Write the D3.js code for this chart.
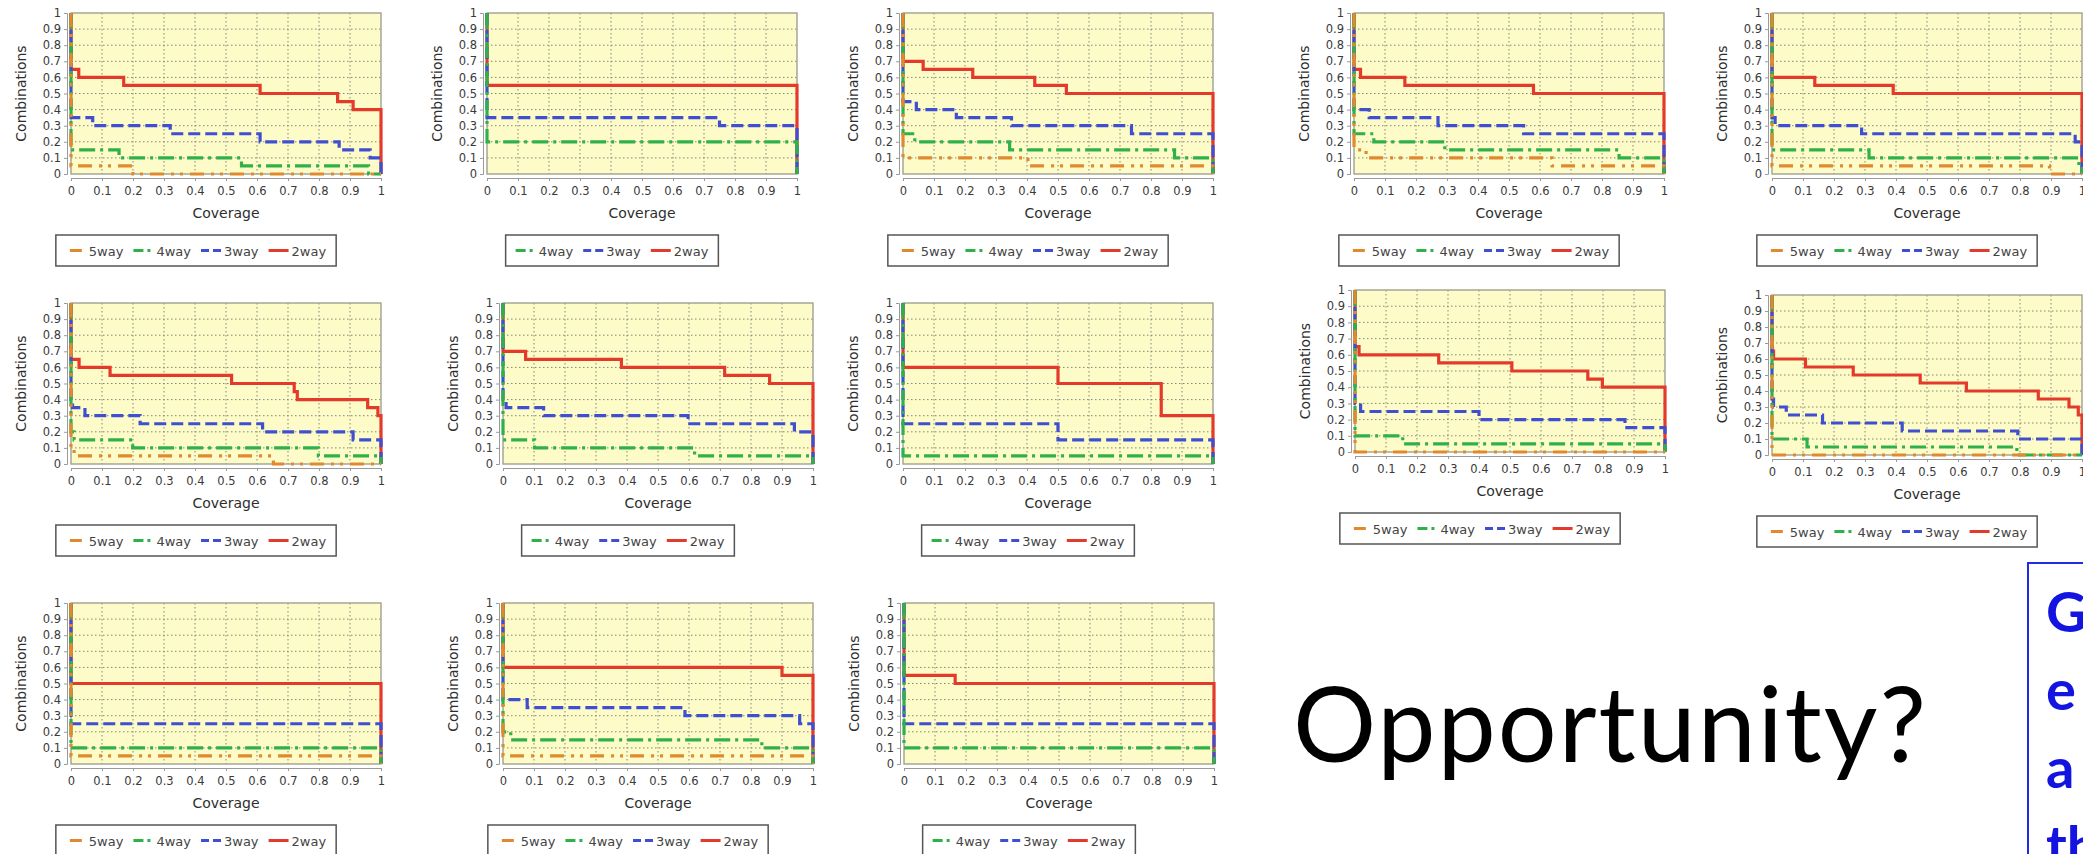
<!DOCTYPE html>
<html>
<head>
<meta charset="utf-8">
<script src="https://cdn.jsdelivr.net/npm/d3@7"></script>
<style>
  html, body { margin: 0; padding: 0; background: #fff; overflow: hidden; }
  text { font-family: "DejaVu Sans", "Liberation Sans", sans-serif; }
</style>
</head>
<body>
<svg id="page" width="2083" height="854"></svg>
<script>
// ---- shared axis values ----
const tickValues = [0, 0.1, 0.2, 0.3, 0.4, 0.5, 0.6, 0.7, 0.8, 0.9, 1];
const tickLabels = ["0", "0.1", "0.2", "0.3", "0.4", "0.5", "0.6", "0.7", "0.8", "0.9", "1"];
const xTitle = "Coverage";
const yTitle = "Combinations";
const seriesNames = ["5way", "4way", "3way", "2way"];

// ---- step curves: [coverage, combinations] — value holds from that coverage onward ----
// row 1
const a_2way = [[0,0.65],[0.025,0.6],[0.17,0.55],[0.61,0.5],[0.86,0.45],[0.91,0.4]];
const a_3way = [[0,0.35],[0.07,0.3],[0.32,0.25],[0.61,0.2],[0.865,0.15],[0.965,0.1]];
const a_4way = [[0,0.15],[0.155,0.1],[0.55,0.05],[0.96,0]];
const a_5way = [[0,0.05],[0.2,0]];

const b_2way = [[0,0.55]];
const b_3way = [[0,0.35],[0.75,0.3]];
const b_4way = [[0,0.2]];

const c_2way = [[0,0.7],[0.065,0.65],[0.225,0.6],[0.425,0.55],[0.527,0.5]];
const c_3way = [[0,0.45],[0.043,0.4],[0.172,0.35],[0.35,0.3],[0.737,0.25]];
const c_4way = [[0,0.25],[0.038,0.2],[0.344,0.15],[0.876,0.1]];
const c_5way = [[0,0.1],[0.403,0.05]];

const d_2way = [[0,0.65],[0.021,0.6],[0.164,0.55],[0.579,0.5]];
const d_3way = [[0,0.4],[0.049,0.35],[0.271,0.3],[0.547,0.25]];
const d_4way = [[0,0.25],[0.064,0.2],[0.293,0.15],[0.855,0.1]];
const d_5way = [[0,0.15],[0.039,0.1],[0.639,0.05]];

const e_2way = [[0,0.6],[0.138,0.55],[0.391,0.5]];
const e_3way = [[0,0.35],[0.01,0.3],[0.289,0.25],[0.978,0.2]];
const e_4way = [[0,0.15],[0.313,0.1],[0.99,0.05]];
const e_5way = [[0,0.05],[0.895,0]];

// row 2
const f_2way = [[0,0.65],[0.026,0.6],[0.126,0.55],[0.518,0.5],[0.72,0.45],[0.73,0.4],[0.957,0.35],[0.99,0.3]];
const f_3way = [[0,0.4],[0.005,0.35],[0.045,0.3],[0.223,0.25],[0.618,0.2],[0.91,0.15]];
const f_4way = [[0,0.2],[0.01,0.15],[0.199,0.1],[0.798,0.05]];
const f_5way = [[0,0.1],[0.01,0.05],[0.653,0]];

const g_2way = [[0,0.7],[0.073,0.65],[0.382,0.6],[0.715,0.55],[0.86,0.5]];
const g_3way = [[0,0.4],[0.01,0.35],[0.131,0.3],[0.597,0.25],[0.94,0.2]];
const g_4way = [[0,0.15],[0.102,0.1],[0.618,0.05]];

const h_2way = [[0,0.6],[0.5,0.5],[0.833,0.3]];
const h_3way = [[0,0.25],[0.5,0.15]];
const h_4way = [[0,0.05]];

const i_2way = [[0,0.65],[0.013,0.6],[0.27,0.55],[0.506,0.5],[0.751,0.45],[0.798,0.4]];
const i_3way = [[0,0.3],[0.018,0.25],[0.4,0.2],[0.871,0.15]];
const i_4way = [[0,0.1],[0.154,0.05]];
const i_5way = [[0,0]];

const j_2way = [[0,0.65],[0.005,0.6],[0.108,0.55],[0.262,0.5],[0.478,0.45],[0.627,0.4],[0.859,0.35],[0.958,0.3],[0.988,0.25]];
const j_3way = [[0,0.35],[0.005,0.3],[0.046,0.25],[0.163,0.2],[0.42,0.15],[0.793,0.1]];
const j_4way = [[0,0.1],[0.113,0.05],[0.79,0]];
const j_5way = [[0,0]];

// row 3
const k_2way = [[0,0.5]];
const k_3way = [[0,0.25]];
const k_4way = [[0,0.1]];
const k_5way = [[0,0.05]];

const l_2way = [[0,0.6],[0.9,0.55]];
const l_3way = [[0,0.4],[0.078,0.35],[0.587,0.3],[0.957,0.25]];
const l_4way = [[0,0.2],[0.025,0.15],[0.835,0.1]];
const l_5way = [[0,0.05]];

const m_2way = [[0,0.55],[0.165,0.5]];
const m_3way = [[0,0.25]];
const m_4way = [[0,0.1]];

// side text
const headline = "Opportunity?";
const boxLines = ["G", "e", "a", "th"];

// ---- styles ----
const seriesStyle = {
  "2way": { color: "#e43a2c", dash: null,            key: [0, 20, null] },
  "3way": { color: "#3f4fcf", dash: "12,5",          key: [0, 20, "8,4"] },
  "4way": { color: "#2fb04a", dash: "16,5,3,5",      key: [0, 18, "10,4,3,20"] },
  "5way": { color: "#e0892f", dash: "14,7,3,6,3,7",  key: [4, 12, null] }
};
const PLOT_BG = "#fdfcc8";

const svg = d3.select("#page");

// panel placement: plot-area origin and height
const panels = [
  { x: 71,   y: 13,  h: 161, s: { "5way": a_5way, "4way": a_4way, "3way": a_3way, "2way": a_2way } },
  { x: 487,  y: 13,  h: 161, s: { "4way": b_4way, "3way": b_3way, "2way": b_2way } },
  { x: 903,  y: 13,  h: 161, s: { "5way": c_5way, "4way": c_4way, "3way": c_3way, "2way": c_2way } },
  { x: 1354, y: 13,  h: 161, s: { "5way": d_5way, "4way": d_4way, "3way": d_3way, "2way": d_2way } },
  { x: 1772, y: 13,  h: 161, s: { "5way": e_5way, "4way": e_4way, "3way": e_3way, "2way": e_2way } },
  { x: 71,   y: 303, h: 161, s: { "5way": f_5way, "4way": f_4way, "3way": f_3way, "2way": f_2way } },
  { x: 503,  y: 303, h: 161, s: { "4way": g_4way, "3way": g_3way, "2way": g_2way } },
  { x: 903,  y: 303, h: 161, s: { "4way": h_4way, "3way": h_3way, "2way": h_2way } },
  { x: 1355, y: 290, h: 162, s: { "5way": i_5way, "4way": i_4way, "3way": i_3way, "2way": i_2way } },
  { x: 1772, y: 295, h: 160, s: { "5way": j_5way, "4way": j_4way, "3way": j_3way, "2way": j_2way } },
  { x: 71,   y: 603, h: 161, s: { "5way": k_5way, "4way": k_4way, "3way": k_3way, "2way": k_2way } },
  { x: 503,  y: 603, h: 161, s: { "5way": l_5way, "4way": l_4way, "3way": l_3way, "2way": l_2way } },
  { x: 904,  y: 603, h: 161, s: { "4way": m_4way, "3way": m_3way, "2way": m_2way } }
];

const W = 310;

function drawPanel(p) {
  const H = p.h;
  const g = svg.append("g").attr("transform", `translate(${p.x},${p.y})`);
  const x = d3.scaleLinear().domain([0, 1]).range([0, W]);
  const y = d3.scaleLinear().domain([0, 1]).range([H, 0]);

  g.append("rect").attr("width", W).attr("height", H).attr("fill", PLOT_BG);

  const inner = tickValues.slice(1, -1);
  g.selectAll(".vg").data(inner).join("line")
    .attr("x1", d => x(d)).attr("x2", d => x(d)).attr("y1", 0).attr("y2", H)
    .attr("stroke", "#85857a").attr("stroke-width", 1).attr("stroke-dasharray", "1.5,2.5");
  g.selectAll(".hg").data(inner).join("line")
    .attr("y1", d => y(d)).attr("y2", d => y(d)).attr("x1", 0).attr("x2", W)
    .attr("stroke", "#85857a").attr("stroke-width", 1).attr("stroke-dasharray", "1.5,2.5");

  g.append("rect").attr("width", W).attr("height", H)
    .attr("fill", "none").attr("stroke", "#a0a090").attr("stroke-width", 1.4);

  // axes sit slightly away from the plot frame
  const xAxis = d3.axisBottom(x).tickValues(tickValues)
    .tickFormat((d, i) => tickLabels[i]).tickSize(3).tickPadding(6);
  const xa = g.append("g").attr("transform", `translate(0,${H + 4})`).call(xAxis);
  const yAxis = d3.axisLeft(y).tickValues(tickValues)
    .tickFormat((d, i) => tickLabels[i]).tickSize(3).tickPadding(3);
  const ya = g.append("g").attr("transform", "translate(-4,0)").call(yAxis);
  [xa, ya].forEach(a => {
    a.select(".domain").attr("stroke", "#9a9a9a");
    a.selectAll(".tick line").attr("stroke", "#9a9a9a");
    a.selectAll(".tick text").attr("fill", "#3a3a3a").style("font-size", "11.5px")
      .style("font-family", "'DejaVu Sans', sans-serif");
  });

  g.append("text").attr("x", W / 2).attr("y", H + 44)
    .attr("text-anchor", "middle").attr("fill", "#2e2e2e").style("font-size", "14px").text(xTitle);
  g.append("text").attr("transform", `translate(-45,${H / 2}) rotate(-90)`)
    .attr("text-anchor", "middle").attr("fill", "#2e2e2e").style("font-size", "14px").text(yTitle);

  // curves: 2way first, 5way drawn on top
  const line = d3.line().x(d => x(d[0])).y(d => y(d[1])).curve(d3.curveStepAfter);
  const order = ["2way", "3way", "4way", "5way"].filter(k => p.s[k]);
  order.forEach(k => {
    const pts = [[0, 1]].concat(p.s[k]).concat([[1, 0]]);
    const st = seriesStyle[k];
    g.append("path").datum(pts).attr("d", line)
      .attr("fill", "none").attr("stroke", st.color).attr("stroke-width", 3.2)
      .attr("stroke-dasharray", st.dash);
  });

  // legend
  const names = seriesNames.filter(k => p.s[k]);
  const lg = g.append("g");
  const box = lg.append("rect").attr("fill", "#fff").attr("stroke", "#555").attr("stroke-width", 1.5);
  let cx = 10;
  names.forEach(k => {
    const st = seriesStyle[k];
    lg.append("line").attr("x1", cx + st.key[0]).attr("x2", cx + st.key[0] + st.key[1])
      .attr("y1", 15.5).attr("y2", 15.5)
      .attr("stroke", st.color).attr("stroke-width", 3).attr("stroke-dasharray", st.key[2]);
    const t = lg.append("text").attr("x", cx + 23).attr("y", 20.5)
      .attr("fill", "#444").style("font-size", "13px").text(k);
    cx += 23 + t.node().getComputedTextLength() + 10;
  });
  const bw = cx;
  box.attr("width", bw).attr("height", 31);
  lg.attr("transform", `translate(${W / 2 - 30 - bw / 2},${H + 61})`);
}

panels.forEach(drawPanel);

// headline text
svg.append("text").attr("x", 1293).attr("y", 762)
  .attr("textLength", 633).attr("lengthAdjust", "spacing")
  .style("font-family", "Lato, 'Open Sans', sans-serif").style("font-size", "104px")
  .attr("fill", "#000").text(headline);

// blue callout box running off the page edge
svg.append("rect").attr("x", 2028).attr("y", 563).attr("width", 120).attr("height", 400)
  .attr("fill", "#fff").attr("stroke", "#1f2be6").attr("stroke-width", 2);
svg.selectAll(".boxline").data(boxLines).join("text")
  .attr("x", 2046).attr("y", (d, i) => 632 + i * 78)
  .style("font-family", "Lato, 'Open Sans', sans-serif").style("font-weight", "bold")
  .style("font-size", "56px").attr("fill", "#1414e0").text(d => d);
</script>
</body>
</html>
